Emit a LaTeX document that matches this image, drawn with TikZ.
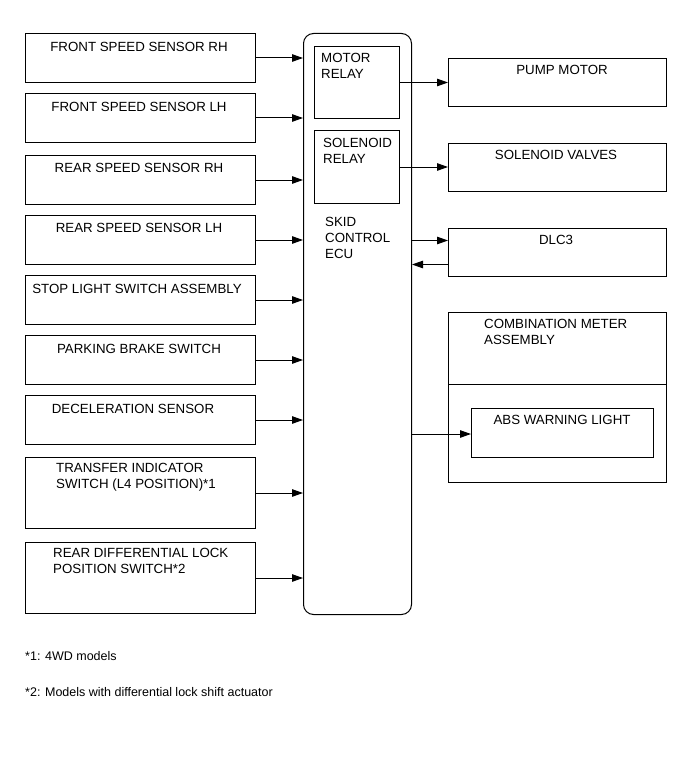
\documentclass[tikz,border=0pt]{standalone}
\usepackage{fontspec}
\setmainfont{Liberation Sans}
\usetikzlibrary{arrows.meta,positioning}
\begin{document}
\begin{tikzpicture}[x=1pt,y=-1pt,
  every node/.style={font=\fontsize{13.3}{16}\selectfont},
  box/.style={draw,line width=1pt,inner sep=0pt,anchor=north west},
  lbl/.style={inner sep=0pt,anchor=north,align=center},
  lbll/.style={inner sep=0pt,anchor=north west,align=left},
  fn/.style={inner sep=0pt,anchor=north west,font=\fontsize{12.5}{16}\selectfont},
  arr/.style={line width=1pt,-{Triangle[length=11pt,width=7.5pt]}}]
\useasboundingbox (0,0) rectangle (691,757);
\fill[white] (0,0) rectangle (691,757);
% left boxes
\node[box,minimum width=230pt,minimum height=49pt] (b1) at (25,33) {};
\node[box,minimum width=230pt,minimum height=49pt] (b2) at (25,93) {};
\node[box,minimum width=230pt,minimum height=49pt] (b3) at (25,155) {};
\node[box,minimum width=230pt,minimum height=49pt] (b4) at (25,215) {};
\node[box,minimum width=230pt,minimum height=49pt] (b5) at (25,275) {};
\node[box,minimum width=230pt,minimum height=49pt] (b6) at (25,335) {};
\node[box,minimum width=230pt,minimum height=49pt] (b7) at (25,395) {};
\node[box,minimum width=230pt,minimum height=71pt] (b8) at (25,457) {};
\node[box,minimum width=230pt,minimum height=71pt] (b9) at (25,542) {};
\node[lbl] (t1) at (139,42) {FRONT SPEED SENSOR RH};
\node[lbl] (t2) at (139,102) {FRONT SPEED SENSOR LH};
\node[lbl] (t3) at (139,163) {REAR SPEED SENSOR RH};
\node[lbl] (t4) at (139,223) {REAR SPEED SENSOR LH};
\node[lbl] (t5) at (137,284) {STOP LIGHT SWITCH ASSEMBLY};
\node[lbl] (t6) at (139,344) {PARKING BRAKE SWITCH};
\node[lbl] (t7) at (133,404) {DECELERATION SENSOR};
\node[lbll] (t8) at (56,463) {TRANSFER INDICATOR\\SWITCH (L4 POSITION)*1};
\node[lbll] (t9) at (53,548) {REAR DIFFERENTIAL LOCK\\POSITION SWITCH*2};
% ECU
\node[box,rounded corners=10pt,minimum width=108pt,minimum height=581pt] (ecu) at (303,33) {};
\node[box,minimum width=85pt,minimum height=72pt] (mr) at (314,46) {};
\node[box,minimum width=85pt,minimum height=73pt] (sr) at (314,130) {};
\node[lbll] (tmr) at (321,53) {MOTOR\\RELAY};
\node[lbll] (tsr) at (323,138) {SOLENOID\\RELAY};
\node[lbll] (tecu) at (325,217) {SKID\\CONTROL\\ECU};
% right boxes
\node[box,minimum width=218pt,minimum height=48pt] (pm) at (448,58) {};
\node[box,minimum width=218pt,minimum height=48pt] (sv) at (448,143) {};
\node[box,minimum width=218pt,minimum height=48pt] (dlc) at (448,228) {};
\node[lbl] (tpm) at (562,65) {PUMP MOTOR};
\node[lbl] (tsv) at (556,150) {SOLENOID VALVES};
\node[lbl] (tdlc) at (556,235) {DLC3};
\node[box,minimum width=218pt,minimum height=170pt] (cm) at (448,312) {};
\coordinate (cmdiv) at (448,384);
\draw[line width=1pt] (cmdiv) -- (cmdiv -| cm.east);
\node[lbll] (tcm) at (484,319) {COMBINATION METER\\ASSEMBLY};
\node[box,minimum width=182pt,minimum height=49pt] (abs) at (471,408) {};
\node[lbl] (tabs) at (562,415) {ABS WARNING LIGHT};
% arrows in
\foreach \b in {b1,b2,b3,b4,b5,b6,b7,b8,b9}
  \draw[arr] (\b.east) -- (\b.east -| ecu.west);
% arrows out
\draw[arr] (mr.east) -- (mr.east -| pm.west);
\draw[arr] (sr.east) -- (sr.east -| sv.west);
\draw[arr] ([yshift=12pt]dlc.west -| ecu.east) -- ([yshift=12pt]dlc.west);
\draw[arr] ([yshift=-12pt]dlc.west) -- ([yshift=-12pt]dlc.west -| ecu.east);
\draw[arr] ([yshift=-1pt]abs.west -| ecu.east) -- ([yshift=-1pt]abs.west);
% footnotes
\node[fn] (f1) at (25,651) {*1: 4WD models};
\node[fn] (f2) at (25,687) {*2: Models with differential lock shift actuator};
\end{tikzpicture}
\end{document}
